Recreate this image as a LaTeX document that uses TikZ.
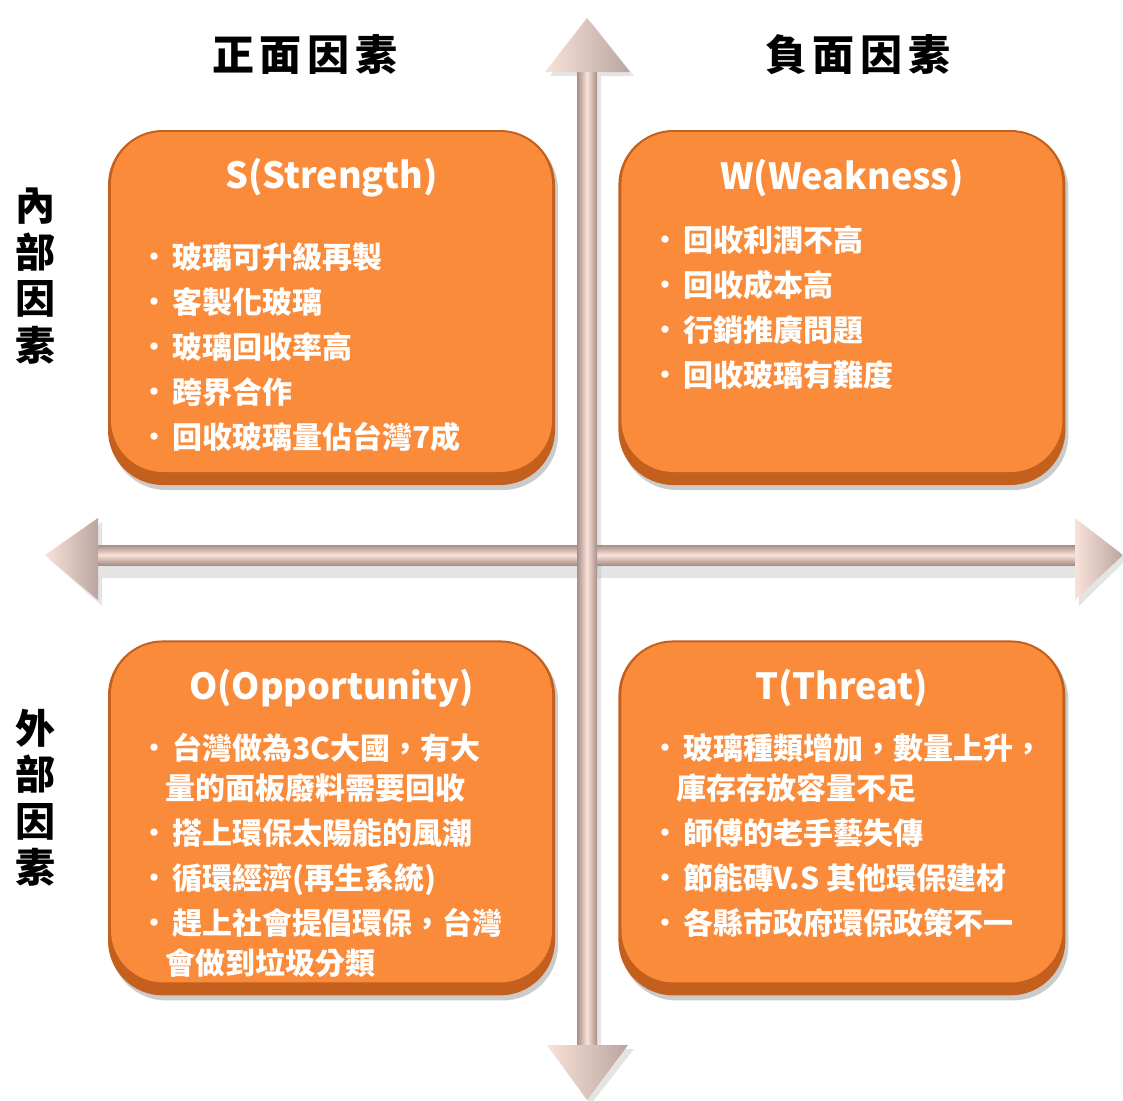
\documentclass[tikz,border=0pt]{standalone}
\usepackage{fontspec}
\usepackage{xcolor}
\usepackage{tikz}
\usetikzlibrary{positioning,shadows}
\newfontfamily\cjk{Noto Sans CJK TC}
\definecolor{boxorange}{HTML}{F98B3B}
\definecolor{boxdark}{HTML}{C4601E}
\definecolor{arrowlight}{HTML}{F9E2D9}
\definecolor{arrowedge}{HTML}{A88E88}
\newcommand\itm[1]{\makebox[26pt][l]{\hspace*{-5pt}\fontsize{26}{26}\selectfont\raisebox{2pt}{•}}#1}
\newcommand\cont[1]{\hspace*{19pt}#1}

\begin{document}
\begin{tikzpicture}
            [x=1pt,y=-1pt,
            box/.style = {rounded corners=55pt,
                        minimum width=447pt, minimum height=355pt,
                        fill=boxdark,
                        drop shadow={shadow xshift=3pt, shadow yshift=-5pt, fill=black!45, opacity=.45},
                        path picture={\fill[boxorange, rounded corners=52pt]
                            ([xshift=3pt,yshift=13pt]path picture bounding box.south west) rectangle
                            ([xshift=-3pt,yshift=-2pt]path picture bounding box.north east);}},
            boxtitle/.style = {font=\cjk\bfseries\fontsize{36}{36}\selectfont, text=white, inner sep=0},
            items/.style = {font=\cjk\bfseries\fontsize{30}{45}\selectfont, text=white,
                        align=left, anchor=north west, inner sep=0},
            factor/.style = {font=\cjk\bfseries\fontsize{42}{42}\selectfont, inner sep=0},
            side/.style = {font=\cjk\bfseries\fontsize{40}{46.5}\selectfont, align=center, inner sep=0},
            head/.style = {left color=arrowlight, right color=arrowedge!80},
            shadowpart/.style = {fill=black!30, opacity=.35}]
            \useasboundingbox (0,0) rectangle (1123,1100);
            % Ejes
            \coordinate (top) at (587,18);
            \coordinate (bottom) at (587,1100);
            \coordinate (left) at (45,555);
            \coordinate (right) at (1123,555);
            \fill[shadowpart] ([xshift=4pt,yshift=-4pt]left) -- ++(53,-37) -- ++(0,28) -- ++(977,0) -- ++(0,-28) -- ([xshift=4pt,yshift=-4pt]right) -- ++(-48,47) -- ++(0,-28) -- ++(-977,0) -- ++(0,28) -- cycle;
            \fill[shadowpart] ([xshift=4pt,yshift=-4pt]top) -- ++(43,54) -- ++(-33,0) -- ++(0,973) -- ++(33,0) -- ([xshift=4pt,yshift=-4pt]bottom) -- ++(-41,-55) -- ++(32,0) -- ++(0,-973) -- ++(-32,0) -- cycle;
            \shade[top color=arrowedge, bottom color=arrowedge, middle color=arrowlight]
                ([xshift=50pt,yshift=10pt]left) rectangle ([xshift=-46pt,yshift=-10pt]right);
            \shade[head] (left) -- ++(53,-37) -- ++(0,82) -- cycle;
            \shade[head] (right) -- ++(-48,-37) -- ++(0,82) -- cycle;
            \shade[left color=arrowedge, right color=arrowedge, middle color=arrowlight]
                ([xshift=-10pt,yshift=-50pt]top) rectangle ([xshift=10pt,yshift=53pt]bottom);
            \shade[head] (top) -- ++(-42,54) -- ++(85,0) -- cycle;
            \shade[head] (bottom) -- ++(-40,-55) -- ++(81,0) -- cycle;

            % Cuadrantes
            \node[box] (sbox) at (331.5,307.5) {};
            \node[box, right=63pt of sbox] (wbox) {};
            \node[box, below=155pt of sbox] (obox) {};
            \node[box, below=155pt of wbox] (tbox) {};

            \node[boxtitle] (stitle) at ([yshift=-48pt]sbox.north) {S(Strength)};
            \node[boxtitle] (wtitle) at ([yshift=-48pt]wbox.north) {W(Weakness)};
            \node[boxtitle] (otitle) at ([yshift=-48pt]obox.north) {O(Opportunity)};
            \node[boxtitle] (ttitle) at ([yshift=-48pt]tbox.north) {T(Threat)};

            \node[items] (slist) at (146,242) {\itm{玻璃可升級再製}\\ \itm{客製化玻璃}\\ \itm{玻璃回收率高}\\ \itm{跨界合作}\\ \itm{回收玻璃量佔台灣7成}};
            \node[items] (wlist) at (657,225) {\itm{回收利潤不高}\\ \itm{回收成本高}\\ \itm{行銷推廣問題}\\ \itm{回收玻璃有難度}};
            \node[items] (olist) at (146,733) {\itm{台灣做為3C大國，有大}\\[-5pt] \cont{量的面板廢料需要回收}\\ \itm{搭上環保太陽能的風潮}\\ \itm{循環經濟(再生系統)}\\ \itm{趕上社會提倡環保，台灣}\\[-5pt] \cont{會做到垃圾分類}};
            \node[items] (tlist) at (657,733) {\itm{玻璃種類增加，數量上升，}\\[-5pt] \cont{庫存存放容量不足}\\ \itm{師傅的老手藝失傳}\\ \itm{節能磚V.S 其他環保建材}\\ \itm{各縣市政府環保政策不一}};

            % Ejes de factores
            \node[factor] (pos) at (305,55) {正\hspace{6pt}面\hspace{6pt}因\hspace{6pt}素};
            \node[factor] (neg) at (858,55) {負\hspace{6pt}面\hspace{6pt}因\hspace{6pt}素};
            \node[side] (inner) at (35,276) {內\\部\\因\\素};
            \node[side] (outer) at (35,798) {外\\部\\因\\素};
        \end{tikzpicture}
\end{document}
